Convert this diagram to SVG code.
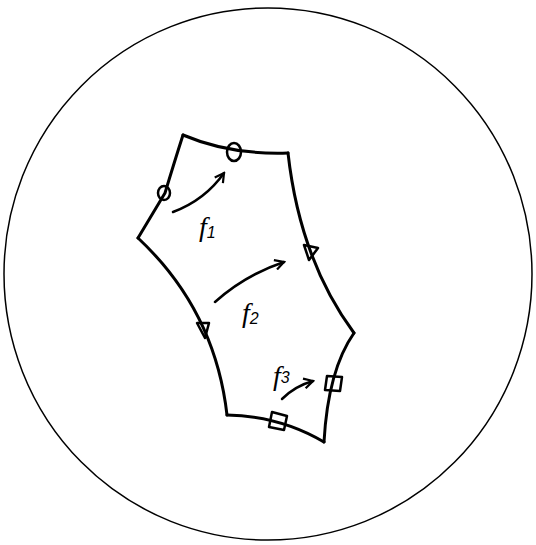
<svg xmlns="http://www.w3.org/2000/svg" width="536" height="545" viewBox="0 0 536 545">
<style>
.edge{fill:none;stroke:#000;stroke-width:3;stroke-linecap:round;stroke-linejoin:round}
.mk{fill:none;stroke:#000;stroke-width:2.5;stroke-linejoin:round}
.arr{fill:none;stroke:#000;stroke-width:2.5;stroke-linecap:round}
.lbl{font-family:"Liberation Serif",serif;font-style:italic;font-size:28px;fill:#000}
.sub{font-family:"Liberation Sans",sans-serif;font-size:16px;fill:#000}
</style>
<defs>
<marker id="ah" viewBox="0 0 12 12" refX="10" refY="6" markerWidth="12" markerHeight="12" markerUnits="userSpaceOnUse" orient="auto">
<path d="M1,1 L10,6 L1,11" fill="none" stroke="#000" stroke-width="2.2"/>
</marker>
</defs>
<rect width="536" height="545" fill="#fff"/>
<g id="disk"><ellipse cx="268" cy="274" rx="264" ry="266" fill="none" stroke="#000" stroke-width="1.5"/></g>
<g id="connectors">
<path class="edge" d="M183,135 Q230,155 288,153"/>
<path class="edge" d="M288,153 Q300,260 354,333"/>
<path class="edge" d="M354,333 Q328,370 324,442"/>
<path class="edge" d="M324,442 Q280,416 227,415"/>
<path class="edge" d="M227,415 Q215,310 138,238"/>
<path class="edge" d="M138,238 L165,193 Q175,160 183,135"/>
<path class="arr" d="M173,212 Q205,200 224,173" marker-end="url(#ah)"/>
<path class="arr" d="M215,302 Q245,275 284,262" marker-end="url(#ah)"/>
<path class="arr" d="M282,399 Q295,386 313,381" marker-end="url(#ah)"/>
</g>
<g id="markers">
<ellipse class="mk" cx="164" cy="193" rx="6" ry="7"/>
<ellipse class="mk" cx="234" cy="152" rx="7" ry="9"/>
<polygon class="mk" points="304,245 318,248 309,260"/>
<polygon class="mk" points="197,323 209,323 205,338"/>
<polygon class="mk" points="327,376 342,377 340,391 325,390"/>
<polygon class="mk" points="272,412 287,416 284,430 269,427"/>
</g>
<g id="labels">
<text class="lbl" x="199" y="236">f<tspan class="sub" dy="2">1</tspan></text>
<text class="lbl" x="242" y="322">f<tspan class="sub" dy="2">2</tspan></text>
<text class="lbl" x="273" y="385">f<tspan class="sub" dy="-2">3</tspan></text>
</g>
</svg>
